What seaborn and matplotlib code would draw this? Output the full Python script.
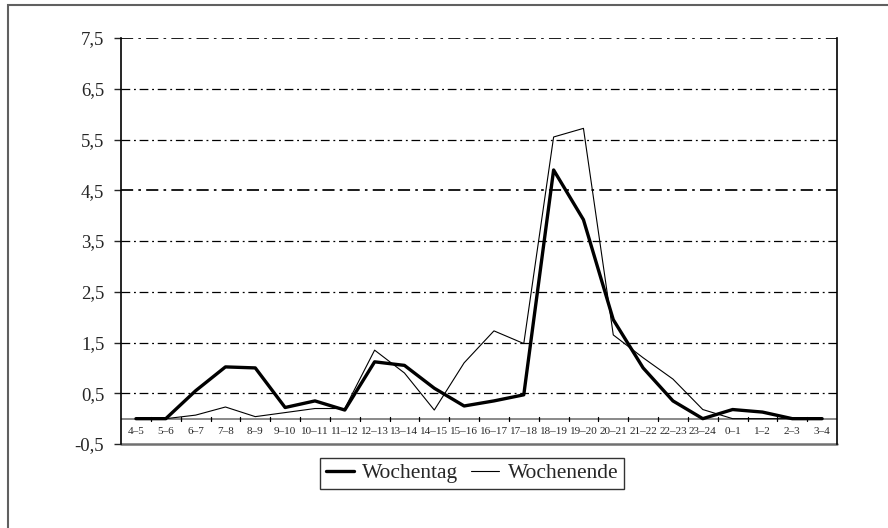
import pandas as pd
import numpy as np
import seaborn as sns
import matplotlib.pyplot as plt
from matplotlib.patches import Rectangle
from matplotlib.ticker import FixedLocator, FuncFormatter

hours = ['4–5', '5–6', '6–7', '7–8', '8–9', '9–10', '10–11', '11–12', '12–13', '13–14',
         '14–15', '15–16', '16–17', '17–18', '18–19', '19–20', '20–21', '21–22', '22–23',
         '23–24', '0–1', '1–2', '2–3', '3–4']
wochentag = [0.0, 0.0, 0.55, 1.02, 1.0, 0.22, 0.35, 0.17, 1.12, 1.05, 0.6, 0.25, 0.35, 0.47,
             4.9, 3.92, 1.95, 1.0, 0.35, 0.0, 0.18, 0.13, 0.0, 0.0]
wochenende = [0.0, 0.0, 0.07, 0.23, 0.04, 0.12, 0.2, 0.2, 1.35, 0.9, 0.17, 1.1, 1.73, 1.48,
              5.55, 5.72, 1.65, 1.2, 0.78, 0.18, 0.0, 0.0, 0.0, 0.0]
yticks = [-0.5, 0.5, 1.5, 2.5, 3.5, 4.5, 5.5, 6.5, 7.5]

df = pd.DataFrame({'Stunde': hours, 'Wochentag': wochentag, 'Wochenende': wochenende})

sns.set_style('white')
plt.rcParams['font.family'] = ['Liberation Serif', 'DejaVu Serif']

fig = plt.figure(figsize=(8.88, 5.28), dpi=100)
ax = fig.add_axes([0.1363, 0.159, 0.8063, 0.769])

# outer frame (only left and top visible, cropped like the original)
fig.patches.append(Rectangle((8 / 888, -0.1), 1.2, 1 - 5 / 528 + 0.1, transform=fig.transFigure,
                             fill=False, edgecolor='#606060', linewidth=1.5))

# dash-dot gridlines
for y in yticks[1:]:
    lw = 1.25 if y in (4.5, 7.5) else 0.9
    ax.axhline(y, color='black', linewidth=lw, linestyle=(0, (7, 3, 1.5, 3)), zorder=1)

ax.axhline(0, color='#808080', linewidth=1.3, zorder=1)

sns.lineplot(data=df, x='Stunde', y='Wochentag', color='black', linewidth=2.4,
             sort=False, ax=ax, label='Wochentag', zorder=3)
sns.lineplot(data=df, x='Stunde', y='Wochenende', color='black', linewidth=0.8,
             sort=False, ax=ax, label='Wochenende', zorder=3)

ax.set_xlim(-0.5, len(hours) - 0.5)
ax.set_ylim(-0.5, 7.5)
ax.set_yticks(yticks)
ax.yaxis.set_major_formatter(FuncFormatter(lambda v, p: f'{v:.1f}'.replace('.', ',')))
ax.tick_params(axis='y', left=True, direction='out', length=5, width=1, labelsize=13.5, pad=7)

# x axis sits on the zero line, labels in the band below
ax.spines['bottom'].set_visible(False)
ax.spines['top'].set_visible(False)
ax.spines['left'].set_color('black')
ax.spines['right'].set_color('black')
ax.spines['left'].set_linewidth(1.2)
ax.spines['right'].set_linewidth(1.2)
ax.axhline(-0.5, color='#707070', linewidth=1.8, zorder=2, clip_on=False)

ax.set_xticks(range(len(hours)))
ax.set_xticklabels([])
ax.xaxis.set_minor_locator(FixedLocator(np.arange(0.5, len(hours) - 0.5, 1)))
ax.tick_params(axis='x', which='major', length=0)
ax.tick_params(axis='x', which='minor', bottom=False)
for i, h in enumerate(hours):
    ax.text(i, -0.25, h, ha='center', va='center', fontsize=8)
    if i < len(hours) - 1:
        ax.plot([i + 0.5, i + 0.5], [-0.04, 0.04], color='black', linewidth=0.9, zorder=2)

ax.set_xlabel('')
ax.set_ylabel('')

ax.get_legend().remove()
leg = fig.legend(loc='center', bbox_to_anchor=(0.5315, 0.104), ncol=2, fontsize=15.5,
                 frameon=True, fancybox=False, edgecolor='black', handlelength=1.3,
                 handletextpad=0.4, columnspacing=0.6, borderpad=0.25)
leg.get_frame().set_linewidth(1.0)

plt.savefig('out.png', dpi=100)
